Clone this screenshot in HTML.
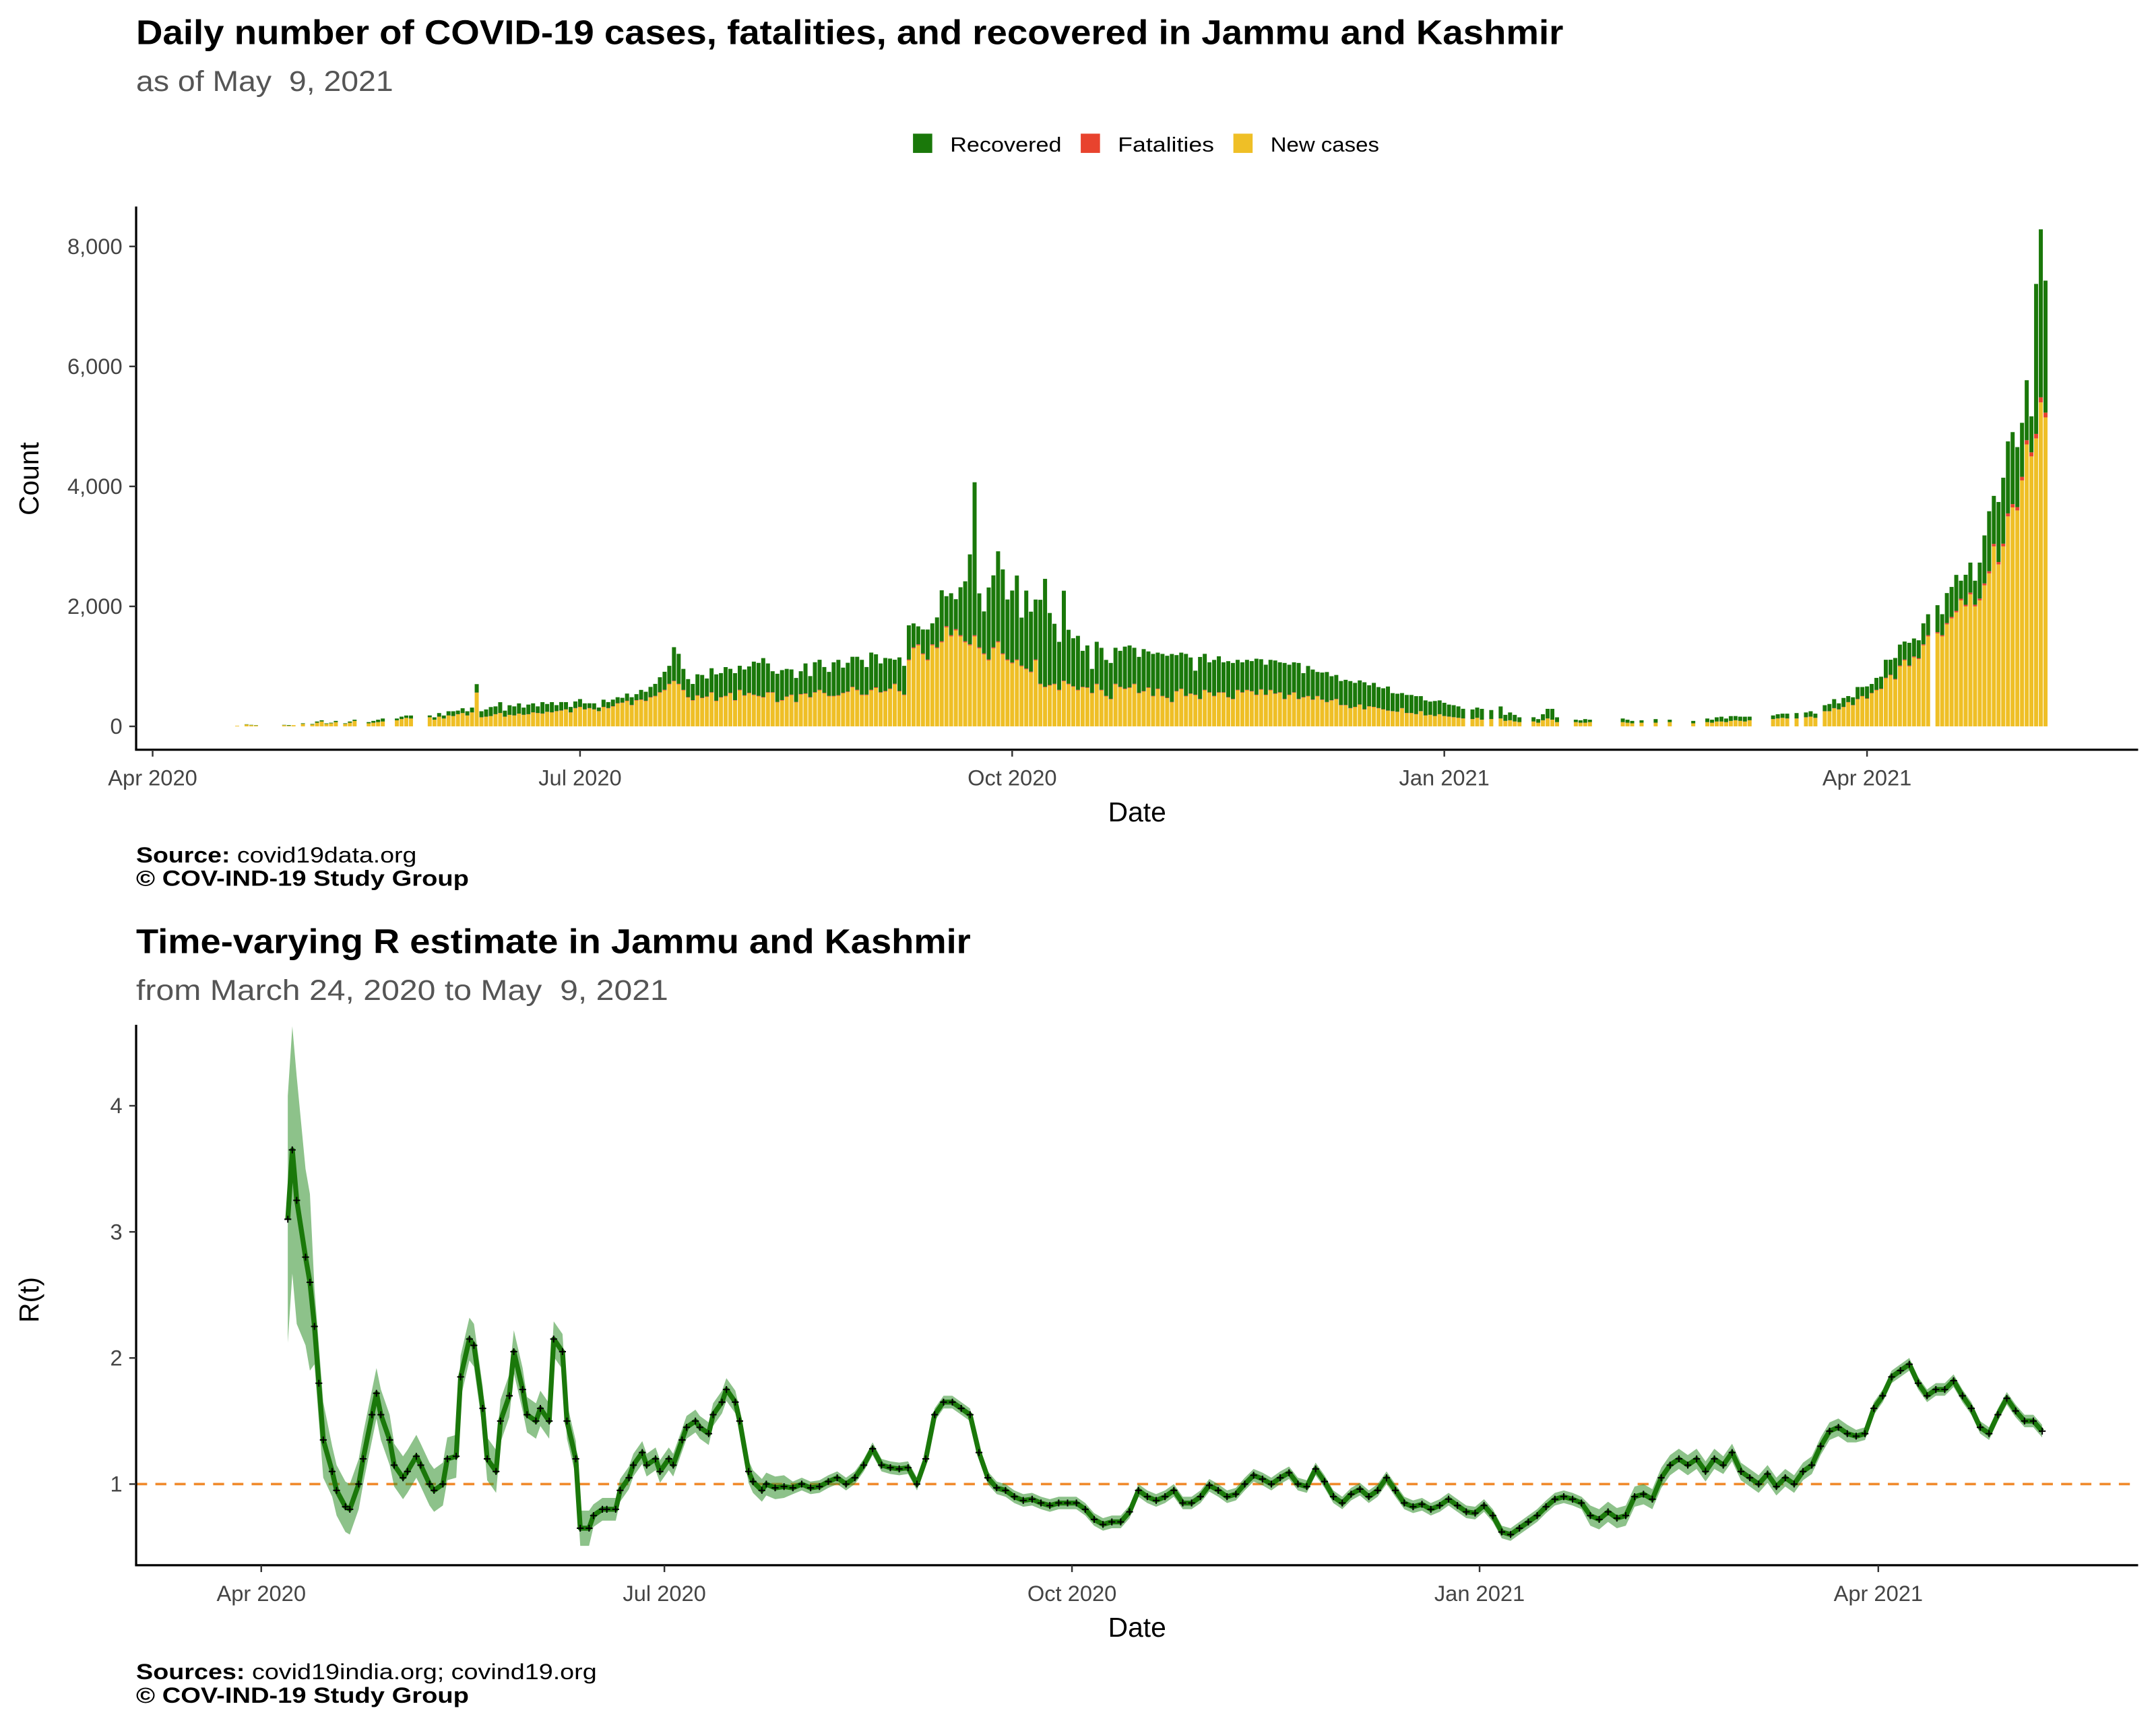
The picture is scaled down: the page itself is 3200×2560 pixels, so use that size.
<!DOCTYPE html>
<html><head><meta charset="utf-8"><style>
html,body{margin:0;padding:0;background:#fff;}
svg{display:block;font-family:"Liberation Sans","DejaVu Sans",sans-serif;}
</style></head><body>
<svg id="root" width="3200" height="2560" viewBox="0 0 1568 1254" xmlns="http://www.w3.org/2000/svg">
<rect width="1568" height="1254" fill="#fff"/>
<text x="99" y="32" font-size="25" font-weight="bold" fill="#000" textLength="1038" lengthAdjust="spacingAndGlyphs">Daily number of COVID-19 cases, fatalities, and recovered in Jammu and Kashmir</text>
<text x="99" y="66" font-size="21" fill="#555" xml:space="preserve" textLength="187" lengthAdjust="spacingAndGlyphs">as of May  9, 2021</text>
<g font-size="15" fill="#000">
<rect x="664" y="97" width="14" height="14" fill="#1a780a"/>
<text x="691" y="110" textLength="81" lengthAdjust="spacingAndGlyphs">Recovered</text>
<rect x="786" y="97" width="14" height="14" fill="#e8432e"/>
<text x="813" y="110" textLength="70" lengthAdjust="spacingAndGlyphs">Fatalities</text>
<rect x="897" y="97" width="14" height="14" fill="#efbf26"/>
<text x="924" y="110" textLength="79" lengthAdjust="spacingAndGlyphs">New cases</text>
</g>
<g id="topG"></g>
<text transform="translate(28,348) rotate(-90)" text-anchor="middle" font-size="20">Count</text>
<text x="827" y="597" text-anchor="middle" font-size="20">Date</text>
<text x="99" y="627" font-size="16" textLength="204" lengthAdjust="spacingAndGlyphs"><tspan font-weight="bold">Source:</tspan> covid19data.org</text>
<text x="99" y="644" font-size="16" font-weight="bold" textLength="242" lengthAdjust="spacingAndGlyphs">© COV-IND-19 Study Group</text>
<text x="99" y="693" font-size="25" font-weight="bold" textLength="607" lengthAdjust="spacingAndGlyphs">Time-varying R estimate in Jammu and Kashmir</text>
<text x="99" y="727" font-size="21" fill="#555" xml:space="preserve" textLength="387" lengthAdjust="spacingAndGlyphs">from March 24, 2020 to May  9, 2021</text>
<g id="botG"></g>
<text transform="translate(28,945) rotate(-90)" text-anchor="middle" font-size="20">R(t)</text>
<text x="827" y="1190" text-anchor="middle" font-size="20">Date</text>
<text x="99" y="1221" font-size="16" textLength="335" lengthAdjust="spacingAndGlyphs"><tspan font-weight="bold">Sources:</tspan> covid19india.org; covind19.org</text>
<text x="99" y="1238" font-size="16" font-weight="bold" textLength="242" lengthAdjust="spacingAndGlyphs">© COV-IND-19 Study Group</text>
</svg>
<script>
// ---- cases chart data (daily, starting 2020-04-17; day index = days since 2020-04-01) ----
const barStartDay = 16;
const newCases = [
0,0,10,0,30,20,15, 0,0,0,0,0,20,10, 20,0,40,0,30,60,80, 40,50,70,0,40,60,90,
0,0,50,60,70,80,0, 0,100,120,140,130,0,0, 0,150,110,160,130,180,170, 200,220,180,230,560,150,160,
170,200,220,160,190,180,210, 190,200,230,220,210,240,230, 250,260,280,230,300,320,280, 300,280,250,320,300,330,380,
390,420,350,430,440,420,480, 500,560,600,700,750,700,600, 480,430,510,470,490,560,420, 480,500,550,430,600,510,550,
520,500,480,560,560,400,430, 490,520,400,530,540,480,560, 600,550,500,500,510,550,570, 650,600,520,520,600,640,560,
580,620,700,580,520,1100,1300, 1350,1200,1100,1350,1300,1400,1650, 1500,1600,1500,1400,1350,1500,1300, 1200,1100,1300,1400,1200,1100,1050,
1100,1000,950,900,1100,700,650, 680,700,600,750,700,660,600, 650,640,550,700,600,500,450, 700,650,620,640,700,550,580,
640,500,620,500,470,400,580, 620,500,540,520,450,600,560, 500,560,560,480,450,600,560, 600,580,520,610,520,600,540,
560,450,520,560,450,480,500, 440,500,440,400,430,450,350, 350,300,320,360,280,330,320, 300,280,260,250,240,300,220,
220,200,250,180,190,170,200, 170,160,150,140,130,0,120, 140,110,0,120,0,130,90, 100,80,70,0,0,80,60,
100,130,110,70,0,0,0, 70,60,60,70,0,0,0, 0,0,0,70,60,50,0, 60,0,0,60,0,0,70,
0,0,0,0,50,0,0, 70,60,80,80,70,90,100, 90,80,100,0,0,0,0, 120,130,140,130,0,130,0,
150,160,140,0,250,250,300, 280,320,400,350,450,500,460, 550,600,620,800,850,780,1000, 1100,1000,1150,1120,1350,1500,0,
1550,1500,1700,1800,1900,2100,2000, 2200,2000,2100,2350,2550,3000,2700, 3000,3500,3650,3600,4100,4700,4500, 4800,5400,5150];
const fatalities = [
0,0,0,0,0,0,0, 0,0,0,0,0,0,0, 0,0,1,0,0,1,1, 0,1,1,0,1,1,1,
0,0,1,1,1,1,0, 0,1,2,1,1,0,0, 0,2,1,2,1,2,2, 3,2,2,3,4,2,2,
2,3,3,2,2,3,3, 3,3,4,3,4,3,4, 4,5,4,4,5,5,4, 5,4,4,5,5,6,6,
6,7,6,7,8,7,8, 8,9,10,9,10,9,8, 8,7,8,7,8,9,7, 8,8,9,7,10,8,9,
9,8,8,9,9,7,8, 8,9,7,9,9,8,9, 10,9,8,8,9,9,10, 10,10,9,9,10,11,9,
10,10,11,10,9,14,16, 17,15,14,17,16,18,20, 19,20,19,18,17,19,17, 16,15,17,18,16,15,14,
14,13,13,12,14,10,9, 10,10,9,11,10,9,9, 9,9,8,10,9,8,7, 10,9,9,9,10,8,8,
9,8,9,8,7,7,8, 9,8,8,8,7,9,8, 8,8,8,7,7,9,8, 9,8,8,9,8,9,8,
8,7,8,8,7,7,7, 7,7,7,6,6,7,6, 6,5,5,6,5,5,5, 5,5,4,4,4,5,4,
4,4,4,3,3,3,3, 3,3,3,3,3,0,2, 3,2,0,2,0,2,2, 2,2,1,0,0,2,1,
2,2,2,1,0,0,0, 1,1,1,1,0,0,0, 0,0,0,1,1,1,0, 1,0,0,1,0,0,1,
0,0,0,0,1,0,0, 1,1,1,1,1,1,2, 2,1,2,0,0,0,0, 2,2,2,2,0,2,0,
2,2,2,0,3,3,4, 4,4,5,5,6,6,6, 7,8,8,10,11,10,13, 14,13,15,15,17,19,0,
20,20,22,24,25,28,27, 30,28,30,33,36,42,40, 45,50,55,55,60,70,68, 75,85,80];
const recovered = [
0,0,0,0,5,5,5, 0,0,0,0,0,5,10, 0,0,10,0,10,20,20, 10,10,20,0,10,20,20,
0,0,20,30,40,50,0, 0,30,40,40,50,0,0, 0,30,40,60,50,70,80, 60,80,70,80,140,100,120,
150,130,180,100,160,150,170, 120,160,150,110,190,130,170, 100,140,120,90,110,130,100, 80,100,60,120,100,110,100,
80,120,130,100,160,150,170, 200,250,300,300,560,500,350, 300,270,350,380,300,400,440, 400,480,400,450,400,430,440,
550,550,650,480,350,470,500, 460,420,400,380,500,350,500, 500,430,400,560,590,420,480, 500,550,580,460,620,550,480,
550,500,400,560,480,570,400, 300,400,500,350,500,850,500, 700,500,800,1000,1500,2550,900, 700,1200,1200,1500,1400,1000,1200,
1400,800,1300,1000,1000,1400,1800, 1200,1000,800,1500,900,800,900, 600,700,400,700,700,600,600, 600,600,700,700,600,600,700,
600,700,600,700,700,800,600, 600,700,600,400,700,600,500, 600,600,500,600,600,500,500, 500,500,600,500,500,500,550,
500,600,500,500,600,400,500, 500,400,450,500,400,400,400, 420,450,400,400,450,350,400, 350,350,400,300,300,250,300,
300,300,250,250,220,250,230, 220,200,200,190,160,0,160, 170,180,0,150,0,200,100, 130,110,80,0,0,70,60,
100,160,180,80,0,0,0, 40,40,60,40,0,0,0, 0,0,0,60,50,40,0, 40,0,0,60,0,0,40,
0,0,0,0,40,0,0, 60,50,70,80,60,80,70, 70,80,60,0,0,0,0, 60,70,70,80,0,90,0,
80,90,70,0,100,120,150, 100,150,100,130,200,150,200, 150,200,200,300,250,350,350, 300,380,300,300,350,350,0,
450,350,500,500,600,300,500, 500,400,600,800,1000,800,1000, 1100,1200,1200,1000,900,1000,600, 2500,2800,2200];
const countTicks = [0, 2000, 4000, 6000, 8000];
const countTickLabels = ["0", "2,000", "4,000", "6,000", "8,000"];
const dateTickDays = [0, 91, 183, 275, 365];
const dateTickLabels = ["Apr 2020", "Jul 2020", "Oct 2020", "Jan 2021", "Apr 2021"];

// ---- R chart data (day = days since 2020-04-01) ----
const rDays = [6,7,8,10,11,12,13,14,16,17,19,20,22,23,25,26,27,29,30,32,33,35,36,38,39,41,42,44,45,47,48,50,51,53,54,56,57,59,60,62,63,65,66,68,69,71,72,74,75,77,78,80,81,83,84,86,87,89,90,92,93,95,96,98,99,101,102,104,105,107,108,110,111,113,114,116,
118,120,122,124,126,128,130,132,134,136,138,140,142,144,146,148,150,152,154,156,158,160,162,164,166,168,170,172,174,176,178,180,182,184,186,188,190,192,194,196,198,200,202,204,206,208,210,212,214,216,218,220,222,224,226,228,230,232,234,236,238,240,242,244,246,248,250,252,254,256,258,260,262,264,266,268,270,272,274,276,278,280,282,284,286,288,290,292,294,296,298,300,302,304,306,308,310,312,314,316,318,320,322,324,326,328,330,332,334,336,338,340,342,344,346,348,350,352,354,356,358,360,362,364,366,368,370,372,374,376,378,380,382,384,386,388,390,392,394,396,398,400,402];
const rVals = [3.1,3.65,3.25,2.8,2.6,2.25,1.8,1.35,1.1,0.95,0.82,0.8,1.0,1.2,1.55,1.72,1.55,1.35,1.15,1.05,1.1,1.22,1.15,1.0,0.95,1.0,1.2,1.22,1.85,2.15,2.1,1.6,1.2,1.1,1.5,1.7,2.05,1.75,1.55,1.5,1.6,1.5,2.15,2.05,1.5,1.2,0.65,0.65,0.75,0.8,0.8,0.8,0.95,1.05,1.15,1.25,1.15,1.2,1.1,1.2,1.15,1.35,1.45,1.5,1.45,1.4,1.55,1.65,1.75,1.65,1.5,1.1,1.02,0.95,1.0,0.97,
0.98,0.97,1.0,0.97,0.98,1.02,1.05,1.0,1.05,1.15,1.28,1.15,1.13,1.12,1.13,1.0,1.2,1.55,1.65,1.65,1.6,1.55,1.25,1.05,0.97,0.95,0.9,0.87,0.88,0.85,0.83,0.85,0.85,0.85,0.8,0.72,0.68,0.7,0.7,0.78,0.95,0.9,0.87,0.9,0.95,0.85,0.85,0.9,0.99,0.95,0.9,0.92,1.0,1.07,1.04,1.0,1.05,1.09,1.0,0.98,1.12,1.02,0.9,0.85,0.92,0.96,0.9,0.95,1.05,0.95,0.85,0.82,0.84,0.8,0.83,0.88,0.83,0.78,0.77,0.83,0.75,0.62,0.6,0.65,0.7,0.75,0.82,0.88,0.9,0.88,0.85,0.75,0.72,0.78,0.73,0.75,0.9,0.92,0.88,1.05,1.15,1.2,1.15,1.2,1.1,1.2,1.15,1.25,1.1,1.05,1.0,1.08,0.98,1.05,1.0,1.1,1.15,1.3,1.42,1.45,1.4,1.38,1.4,1.6,1.7,1.85,1.9,1.95,1.8,1.7,1.75,1.75,1.82,1.7,1.6,1.45,1.4,1.55,1.68,1.58,1.5,1.5,1.42];
const ciDays = [0,9,12,16,30,60,75,120,300,330,360];
const ciHalf = [0.7,0.5,0.3,0.2,0.17,0.14,0.09,0.05,0.08,0.07,0.05];
const rTicks = [1, 2, 3, 4];
const rTickLabels = ["1", "2", "3", "4"];
const rThreshold = 1;

const NS = "http://www.w3.org/2000/svg";
function mk(tag, attrs, parent) {
  const e = document.createElementNS(NS, tag);
  for (const k in attrs) e.setAttribute(k, attrs[k]);
  parent.appendChild(e);
  return e;
}
// ---- top chart ----
const topG = document.getElementById("topG");
const xT = d => 111 + d * 3.416;
const yT = v => 528 - v * (528 - 179) / 8000;
const bw = 3.416 * 0.86;
for (let i = 0; i < newCases.length; i++) {
  const d = barStartDay + i;
  const x = xT(d) - bw / 2;
  const n = newCases[i], f = fatalities[i], r = recovered[i];
  if (n + f + r <= 0) continue;
  const b1 = mk("rect", {x: x, y: yT(n), width: bw, height: yT(0) - yT(n), fill: "#efbf26"}, topG);
  
  
  const b2 = mk("rect", {x: x, y: yT(n + f), width: bw, height: yT(n) - yT(n + f), fill: "#e8432e"}, topG);
  
  
  const b3 = mk("rect", {x: x, y: yT(n + f + r), width: bw, height: yT(n + f) - yT(n + f + r), fill: "#1a780a"}, topG);
  
  
}
const ta1 = mk("line", {x1: 99, y1: 150, x2: 99, y2: 545, stroke: "#000", "stroke-width": 1.6}, topG);


const ta2 = mk("line", {x1: 98.2, y1: 545, x2: 1555, y2: 545, stroke: "#000", "stroke-width": 1.6}, topG);


countTicks.forEach((v, i) => {
  mk("line", {x1: 94, x2: 99, y1: yT(v), y2: yT(v), stroke: "#333", "stroke-width": 1.2}, topG);
  const t = mk("text", {x: 89, y: yT(v) + 5.5, "text-anchor": "end", "font-size": 16, fill: "#444"}, topG);
  t.textContent = countTickLabels[i];
  
  
});
dateTickDays.forEach((d, i) => {
  mk("line", {x1: xT(d), x2: xT(d), y1: 545, y2: 550, stroke: "#333", "stroke-width": 1.2}, topG);
  const t = mk("text", {x: xT(d), y: 571, "text-anchor": "middle", "font-size": 16, fill: "#444"}, topG);
  t.textContent = dateTickLabels[i];
  
  
});
// ---- R chart ----
const botG = document.getElementById("botG");
const xB = d => 190 + d * 3.222;
const yB = v => 1079 - (v - 1) * 91.7;
function half(d) {
  let h = ciHalf[0];
  for (let i = 0; i < ciDays.length; i++) if (d >= ciDays[i]) h = ciHalf[i];
  return h;
}
const thr = mk("line", {x1: 99, x2: 1555, y1: yB(rThreshold), y2: yB(rThreshold), stroke: "#f08a2c", "stroke-width": 1.8, "stroke-dasharray": "8,6"}, botG);


let up = [], lo = [];
rDays.forEach((d, i) => {
  const h = half(d) * (rVals[i] > 2.5 ? 1.4 : 1);
  up.push(xB(d).toFixed(1) + "," + yB(rVals[i] + h).toFixed(1));
  lo.unshift(xB(d).toFixed(1) + "," + yB(rVals[i] - h).toFixed(1));
});
const band = mk("polygon", {points: up.concat(lo).join(" "), fill: "#2f8f2a", "fill-opacity": 0.55}, botG);


const line = mk("polyline", {points: rDays.map((d, i) => xB(d).toFixed(1) + "," + yB(rVals[i]).toFixed(1)).join(" "), fill: "none", stroke: "#1a780a", "stroke-width": 3.6, "stroke-linejoin": "round"}, botG);


rDays.forEach((d, i) => {
  const x = xB(d), y = yB(rVals[i]);
  const p = mk("path", {d: `M${x-2.5},${y}H${x+2.5}M${x},${y-2.5}V${y+2.5}`, stroke: "#000", "stroke-width": 1}, botG);
  
  
});
const ba1 = mk("line", {x1: 99, y1: 745, x2: 99, y2: 1138, stroke: "#000", "stroke-width": 1.6}, botG);


const ba2 = mk("line", {x1: 98.2, y1: 1138, x2: 1555, y2: 1138, stroke: "#000", "stroke-width": 1.6}, botG);


rTicks.forEach((v, i) => {
  mk("line", {x1: 94, x2: 99, y1: yB(v), y2: yB(v), stroke: "#333", "stroke-width": 1.2}, botG);
  const t = mk("text", {x: 89, y: yB(v) + 5.5, "text-anchor": "end", "font-size": 16, fill: "#444"}, botG);
  t.textContent = rTickLabels[i];
  
  
});
dateTickDays.forEach((d, i) => {
  mk("line", {x1: xB(d), x2: xB(d), y1: 1138, y2: 1143, stroke: "#333", "stroke-width": 1.2}, botG);
  const t = mk("text", {x: xB(d), y: 1164, "text-anchor": "middle", "font-size": 16, fill: "#444"}, botG);
  t.textContent = dateTickLabels[i];
  
  
});
</script>
</body></html>
